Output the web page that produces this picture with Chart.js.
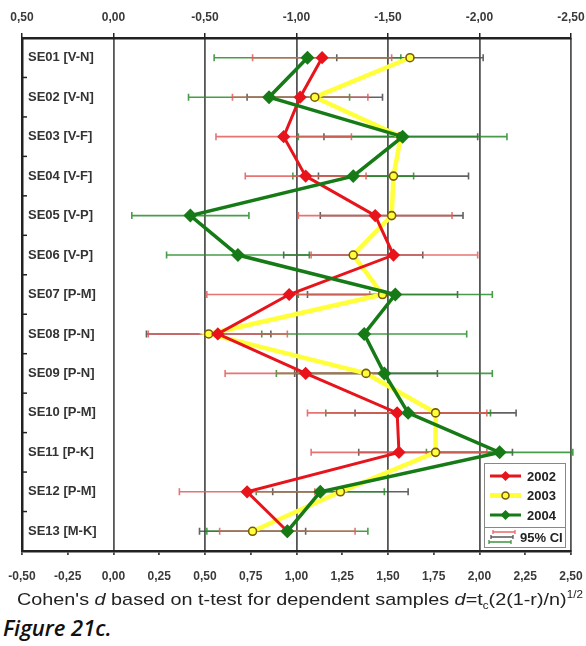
<!DOCTYPE html>
<html>
<head>
<meta charset="utf-8">
<script src="https://cdn.jsdelivr.net/npm/chart.js@4.4.0/dist/chart.umd.min.js"></script>
<style>
  body { margin: 0; background: #fff; }
  #wrap { position: relative; width: 586px; height: 646px; overflow: hidden; }
  #xTitle { position: absolute; left: 17px; top: 589px; font: 17px Arial, "Liberation Sans", sans-serif; color: #222; white-space: nowrap; transform: scaleX(1.165); transform-origin: left center; }
  #xTitle sub, #xTitle sup { font-size: 10px; }
  #figCap { position: absolute; left: 3px; top: 612px; font: italic 600 22px "Open Sans", sans-serif; color: #111; }
</style>
</head>
<body>
<div id="wrap">
  <canvas id="effectChart" width="586" height="590"></canvas>
  <div id="xTitle">Cohen's <i>d</i> based on t-test for dependent samples <i>d</i>=t<sub>c</sub>(2(1-r)/n)<sup>1/2</sup></div>
  <div id="figCap">Figure 21c.</div>
</div>
<script>
const categories = ['SE01 [V-N]', 'SE02 [V-N]', 'SE03 [V-F]', 'SE04 [V-F]', 'SE05 [V-P]', 'SE06 [V-P]',
    'SE07 [P-M]', 'SE08 [P-N]', 'SE09 [P-N]', 'SE10 [P-M]', 'SE11 [P-K]', 'SE12 [P-M]', 'SE13 [M-K]'];

// Cohen's d per year
const d2002 = [1.14, 1.02, 0.93, 1.05, 1.43, 1.53, 0.96, 0.57, 1.05, 1.55, 1.56, 0.73, 0.95];
const d2003 = [1.62, 1.10, 1.57, 1.53, 1.52, 1.31, 1.47, 0.52, 1.38, 1.76, 1.76, 1.24, 0.76];
const d2004 = [1.06, 0.85, 1.58, 1.31, 0.42, 0.68, 1.54, 1.37, 1.48, 1.61, 2.11, 1.13, 0.95];

// 95% CI bounds
const lo2002 = [0.76, 0.65, 0.56, 0.72, 1.01, 1.08, 0.51, 0.19, 0.61, 1.06, 1.08, 0.36, 0.58];
const hi2002 = [1.52, 1.39, 1.30, 1.38, 1.85, 1.99, 1.40, 0.95, 1.49, 2.04, 2.04, 1.10, 1.32];
const lo2003 = [1.22, 0.73, 1.15, 1.12, 1.13, 0.93, 1.06, 0.18, 0.99, 1.32, 1.34, 0.87, 0.47];
const hi2003 = [2.02, 1.47, 1.99, 1.94, 1.91, 1.69, 1.88, 0.86, 1.77, 2.20, 2.18, 1.61, 1.05];
const lo2004 = [0.55, 0.41, 1.01, 0.98, 0.10, 0.29, 1.01, 0.81, 0.89, 1.16, 1.71, 0.78, 0.51];
const hi2004 = [1.57, 1.29, 2.15, 1.64, 0.74, 1.07, 2.07, 1.93, 2.07, 2.06, 2.51, 1.48, 1.39];

const xMin = -0.5, xMax = 2.5;
const bottomStep = 0.25, topStep = 0.5;

const RED = '#e8141c', YELLOW = '#ffff3a', GREEN = '#167a16';

const fmt = (v) => v.toFixed(2).replace('.', ',');

// CI lines, drawn bottom to top
const ciSets = [
    { lo: lo2003, hi: hi2003, color: 'rgba(70,70,70,0.85)' },
    { lo: lo2004, hi: hi2004, color: 'rgba(40,140,40,0.85)' },
    { lo: lo2002, hi: hi2002, color: 'rgba(228,90,90,0.85)' },
];

const ciPlugin = {
    id: 'ciBars',
    beforeDatasetsDraw(chart) {
        const { ctx, chartArea } = chart;
        const xs = chart.scales.x, ys = chart.scales.y;
        ctx.save();
        ctx.beginPath();
        ctx.rect(chartArea.left, chartArea.top, chartArea.right - chartArea.left + 3, chartArea.bottom - chartArea.top);
        ctx.clip();
        ctx.lineWidth = 1.6;
        ciSets.forEach(set => {
            ctx.strokeStyle = set.color;
            set.lo.forEach((lo, i) => {
                const y = ys.getPixelForValue(i);
                const x1 = xs.getPixelForValue(lo);
                const x2 = xs.getPixelForValue(set.hi[i]);
                ctx.beginPath();
                ctx.moveTo(x1, y); ctx.lineTo(x2, y);
                ctx.moveTo(x1, y - 3.5); ctx.lineTo(x1, y + 3.5);
                ctx.moveTo(x2, y - 3.5); ctx.lineTo(x2, y + 3.5);
                ctx.stroke();
            });
        });
        ctx.restore();

        // small inward ticks on the left axis between categories
        ctx.save();
        ctx.strokeStyle = '#222';
        ctx.lineWidth = 1.5;
        for (let i = 0; i < categories.length - 1; i++) {
            const y = (ys.getPixelForValue(i) + ys.getPixelForValue(i + 1)) / 2;
            ctx.beginPath();
            ctx.moveTo(chartArea.left, y);
            ctx.lineTo(chartArea.left + 5, y);
            ctx.stroke();
        }
        ctx.restore();
    },
    afterDraw(chart) {
        const { ctx, chartArea } = chart;
        const bx = chartArea.right - 87, by = chartArea.bottom - 88;
        const bw = 81, bh = 84;
        ctx.save();
        ctx.fillStyle = '#fff';
        ctx.fillRect(bx, by, bw, bh);
        ctx.strokeStyle = '#888';
        ctx.lineWidth = 1;
        ctx.strokeRect(bx + 0.5, by + 0.5, bw, bh);

        const entries = [
            { label: '2002', color: RED, width: 3, marker: 'diamond', fill: RED, border: RED },
            { label: '2003', color: YELLOW, width: 5, marker: 'circle', fill: YELLOW, border: '#7a5c00' },
            { label: '2004', color: GREEN, width: 3, marker: 'diamond', fill: GREEN, border: GREEN },
        ];
        ctx.font = 'bold 13px Arial';
        ctx.textBaseline = 'middle';
        entries.forEach((e, k) => {
            const y = by + 13 + k * 19.5;
            ctx.strokeStyle = e.color;
            ctx.lineWidth = e.width;
            ctx.beginPath();
            ctx.moveTo(bx + 6, y); ctx.lineTo(bx + 37, y);
            ctx.stroke();
            const mx = bx + 21.5;
            ctx.fillStyle = e.fill;
            ctx.strokeStyle = e.border;
            ctx.lineWidth = 1.5;
            ctx.beginPath();
            if (e.marker === 'circle') {
                ctx.arc(mx, y, 3.5, 0, Math.PI * 2);
            } else {
                ctx.moveTo(mx, y - 4); ctx.lineTo(mx + 4, y); ctx.lineTo(mx, y + 4); ctx.lineTo(mx - 4, y); ctx.closePath();
            }
            ctx.fill(); ctx.stroke();
            ctx.fillStyle = '#222';
            ctx.fillText(e.label, bx + 43, y + 1);
        });
        // separator + CI sample
        const sy = by + 64;
        ctx.strokeStyle = '#888';
        ctx.lineWidth = 1;
        ctx.beginPath();
        ctx.moveTo(bx, sy + 0.5); ctx.lineTo(bx + bw, sy + 0.5);
        ctx.stroke();
        const cols = ['rgba(228,90,90,0.9)', 'rgba(70,70,70,0.9)', 'rgba(40,140,40,0.9)'];
        cols.forEach((c, k) => {
            const y = sy + 5 + k * 5;
            const sx = bx + 9 - k * 2;
            ctx.strokeStyle = c;
            ctx.lineWidth = 1.3;
            ctx.beginPath();
            ctx.moveTo(sx, y); ctx.lineTo(sx + 22, y);
            ctx.moveTo(sx, y - 2); ctx.lineTo(sx, y + 2);
            ctx.moveTo(sx + 22, y - 2); ctx.lineTo(sx + 22, y + 2);
            ctx.stroke();
        });
        ctx.fillStyle = '#222';
        ctx.fillText('95% CI', bx + 36, sy + 11);
        ctx.restore();
    }
};

// keep the plot frame where the picture has it, labels may overhang
const noSidePadding = (s) => { s.paddingLeft = 0; s.paddingRight = 0; };

const canvas = document.getElementById('effectChart');
new Chart(canvas.getContext('2d'), {
    type: 'line',
    data: {
        labels: categories,
        datasets: [
            {
                label: '2004', data: d2004, borderColor: GREEN, borderWidth: 3.5, order: 0,
                pointStyle: 'rectRot', pointRadius: 4.5, pointBackgroundColor: GREEN, pointBorderColor: GREEN, tension: 0
            },
            {
                label: '2002', data: d2002, borderColor: RED, borderWidth: 3, order: 1,
                pointStyle: 'rectRot', pointRadius: 4.5, pointBackgroundColor: RED, pointBorderColor: RED, tension: 0
            },
            {
                label: '2003', data: d2003, borderColor: YELLOW, borderWidth: 4.5, order: 2,
                pointStyle: 'circle', pointRadius: 4, pointBackgroundColor: YELLOW, pointBorderColor: '#7a5c00',
                pointBorderWidth: 1.6, tension: 0
            }
        ]
    },
    options: {
        responsive: false,
        animation: false,
        indexAxis: 'y',
        layout: { padding: { left: 22, right: 15, top: 0, bottom: 0 } },
        plugins: {
            legend: { display: false },
            tooltip: { enabled: false }
        },
        scales: {
            x: {
                type: 'linear',
                position: 'bottom',
                min: xMin, max: xMax,
                ticks: {
                    stepSize: bottomStep,
                    callback: (v) => fmt(v),
                    color: '#3a3a3a',
                    font: { family: 'Arial', size: 12, weight: 'bold' },
                    padding: 14,
                    maxRotation: 0,
                    autoSkip: false
                },
                grid: {
                    color: (c) => (c.tick && Math.abs(c.tick.value / 0.5 - Math.round(c.tick.value / 0.5)) < 1e-6) ? '#555' : 'transparent',
                    lineWidth: 1.8,
                    tickColor: '#444',
                    tickLength: 4
                },
                border: { display: true, color: '#222', width: 2.5 },
                afterFit: (s) => { s.height = 39; noSidePadding(s); }
            },
            x2: {
                type: 'linear',
                position: 'top',
                min: xMin, max: xMax,
                ticks: {
                    stepSize: topStep,
                    callback: (v) => fmt(-v),
                    color: '#3a3a3a',
                    font: { family: 'Arial', size: 12, weight: 'bold' },
                    padding: 8,
                    maxRotation: 0
                },
                grid: { drawOnChartArea: false, tickColor: '#222', tickLength: 5, lineWidth: 1.5 },
                border: { display: true, color: '#222', width: 2.5 },
                afterFit: (s) => { s.height = 38; noSidePadding(s); }
            },
            y: {
                type: 'category',
                offset: true,
                ticks: {
                    mirror: true,
                    padding: 6,
                    color: '#333',
                    font: { family: 'Arial', size: 13, weight: 'bold' }
                },
                grid: { display: false, drawTicks: false },
                border: { display: true, color: '#222', width: 2.5 },
                afterFit: (s) => { s.width = 0; }
            }
        }
    },
    plugins: [ciPlugin]
});
</script>
</body>
</html>
